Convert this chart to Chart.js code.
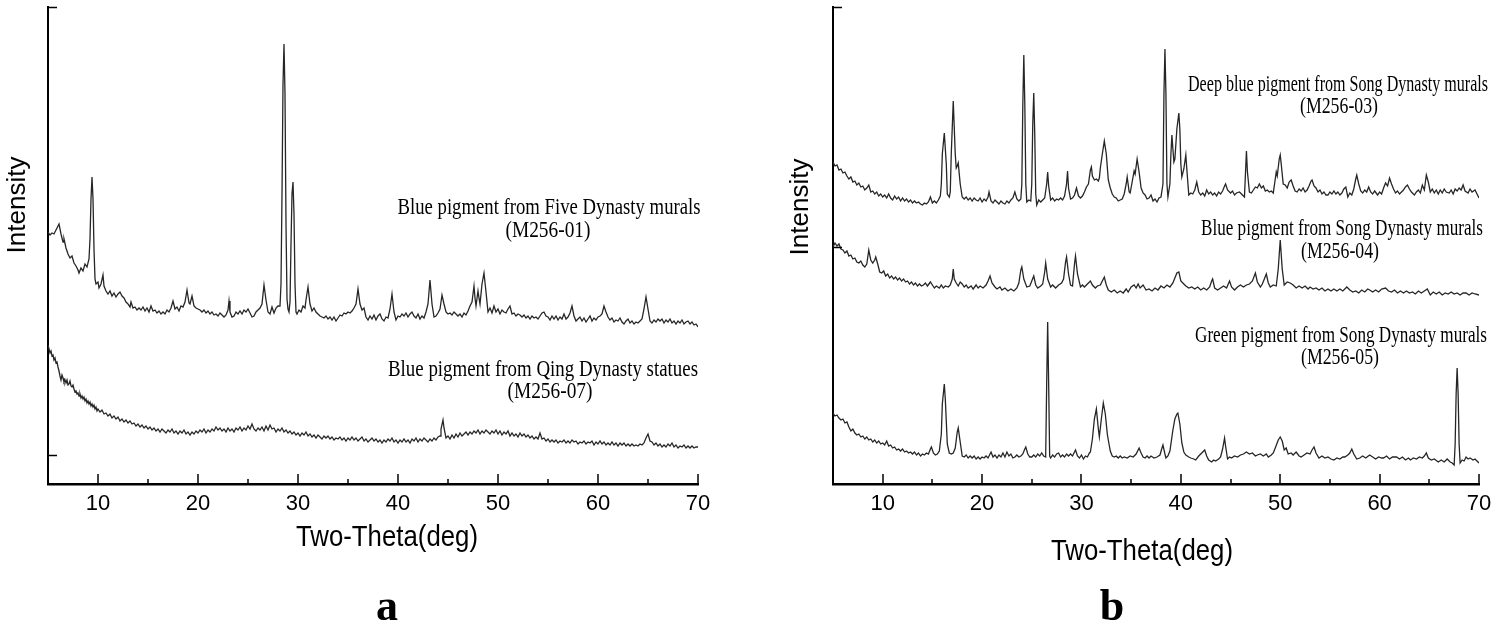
<!DOCTYPE html>
<html lang="en">
<head>
<meta charset="UTF-8">
<script src="https://cdn.jsdelivr.net/npm/chart.js"></script>
<title>XRD patterns</title>
<style>
  body { margin: 0; background: #fff; }
  #wrap { position: relative; width: 1500px; height: 636px; }
  canvas { position: absolute; left: 0; top: 0; }
</style>
</head>
<body>
<div id="wrap">
  <canvas id="panelA" width="1500" height="636"></canvas>
  <canvas id="panelB" width="1500" height="636"></canvas>
</div>
<script>
// two-theta (deg) / intensity (a.u., traces offset for display)
const m01 = [[5.0,252],[5.2,249],[5.4,251],[5.6,250],[5.8,254],[6.0,258],[6.1,260],[6.3,250],[6.5,242],[6.6,245],[6.8,236],[7.0,230],[7.2,226],[7.4,228],[7.6,221],[7.8,218],[8.0,214],[8.1,211],[8.3,216],[8.5,213],[8.7,220],[8.9,217],[9.1,225],[9.2,245],[9.3,285],[9.4,307],[9.5,285],[9.6,235],[9.7,205],[9.8,200],[10.0,202],[10.1,196],[10.3,200],[10.5,209],[10.6,198],[10.8,193],[11.0,190],[11.2,193],[11.4,188],[11.6,191],[11.8,187],[12.0,190],[12.2,192],[12.4,188],[12.6,186],[12.8,182],[13.0,180],[13.2,177],[13.3,182],[13.5,176],[13.7,177],[13.9,174],[14.1,176],[14.3,174],[14.5,177],[14.7,173],[14.9,176],[15.1,172],[15.3,178],[15.5,173],[15.7,174],[15.9,171],[16.1,173],[16.3,170],[16.5,172],[16.7,170],[16.9,174],[17.1,172],[17.3,176],[17.5,183],[17.7,175],[17.9,177],[18.1,173],[18.3,178],[18.5,177],[18.7,182],[18.9,194],[19.1,181],[19.2,180],[19.4,188],[19.6,178],[19.8,176],[20.0,175],[20.2,174],[20.4,172],[20.6,174],[20.8,171],[21.0,173],[21.2,170],[21.4,172],[21.6,169],[21.8,170],[22.0,168],[22.2,171],[22.4,169],[22.6,167],[22.8,169],[23.0,174],[23.1,183],[23.2,172],[23.4,167],[23.6,168],[23.8,172],[24.0,170],[24.2,173],[24.4,170],[24.6,174],[24.8,172],[25.0,175],[25.2,171],[25.4,167],[25.6,168],[25.8,172],[26.0,174],[26.2,176],[26.4,180],[26.6,199],[26.8,184],[27.0,172],[27.2,170],[27.4,177],[27.6,171],[27.8,176],[28.0,178],[28.2,178],[28.3,200],[28.4,290],[28.5,400],[28.6,440],[28.7,390],[28.8,260],[28.9,185],[29.0,175],[29.1,172],[29.2,182],[29.3,240],[29.4,290],[29.5,302],[29.6,270],[29.7,200],[29.8,172],[29.9,170],[30.1,174],[30.3,172],[30.5,178],[30.7,176],[30.8,184],[31.0,197],[31.2,180],[31.4,173],[31.6,176],[31.8,172],[32.0,170],[32.2,168],[32.4,167],[32.6,166],[32.8,168],[33.0,165],[33.2,167],[33.4,164],[33.6,167],[33.8,163],[34.0,166],[34.2,169],[34.4,168],[34.6,171],[34.8,170],[35.0,172],[35.2,171],[35.4,173],[35.6,176],[35.8,180],[36.0,195],[36.2,180],[36.4,174],[36.6,176],[36.8,167],[37.0,164],[37.2,168],[37.4,165],[37.6,169],[37.8,164],[38.0,168],[38.2,170],[38.4,165],[38.6,163],[38.8,167],[39.0,166],[39.2,175],[39.4,190],[39.6,172],[39.8,164],[40.0,168],[40.2,167],[40.4,170],[40.6,168],[40.8,171],[41.0,167],[41.2,170],[41.4,172],[41.6,168],[41.8,166],[42.0,170],[42.2,165],[42.4,168],[42.6,166],[42.8,172],[43.0,180],[43.2,204],[43.4,180],[43.6,167],[43.8,168],[44.0,171],[44.2,175],[44.4,189],[44.6,180],[44.8,172],[45.0,170],[45.2,171],[45.4,169],[45.6,172],[45.8,170],[46.0,168],[46.2,170],[46.4,167],[46.6,171],[46.8,169],[47.0,173],[47.2,178],[47.4,182],[47.6,198],[47.7,186],[47.8,178],[48.0,193],[48.1,186],[48.2,180],[48.4,200],[48.6,211],[48.8,192],[49.0,172],[49.2,176],[49.4,171],[49.6,178],[49.8,172],[50.0,175],[50.2,170],[50.4,174],[50.6,172],[50.8,171],[51.0,175],[51.2,178],[51.4,170],[51.6,171],[51.8,168],[52.0,170],[52.2,169],[52.4,167],[52.6,169],[52.8,166],[53.0,168],[53.2,165],[53.4,168],[53.6,166],[53.8,167],[54.0,165],[54.2,168],[54.4,171],[54.6,172],[54.8,168],[55.0,167],[55.2,164],[55.4,168],[55.6,165],[55.8,168],[56.0,164],[56.2,167],[56.4,165],[56.6,170],[56.8,165],[57.0,167],[57.2,171],[57.4,178],[57.6,168],[57.8,163],[58.0,165],[58.2,167],[58.4,163],[58.6,166],[58.8,162],[59.0,165],[59.2,168],[59.4,163],[59.6,166],[59.8,164],[60.0,167],[60.2,168],[60.4,170],[60.6,178],[60.8,172],[61.0,167],[61.2,164],[61.4,166],[61.6,162],[61.8,164],[62.0,163],[62.2,166],[62.4,162],[62.6,160],[62.8,163],[63.0,165],[63.2,161],[63.4,163],[63.6,160],[63.8,162],[64.0,161],[64.2,163],[64.4,165],[64.6,175],[64.8,187],[65.0,175],[65.2,163],[65.4,161],[65.6,164],[65.8,162],[66.0,165],[66.2,163],[66.4,165],[66.6,161],[66.8,164],[67.0,162],[67.2,165],[67.4,161],[67.6,163],[67.8,160],[68.0,163],[68.2,161],[68.4,164],[68.6,160],[68.8,162],[69.0,163],[69.2,160],[69.4,162],[69.6,159],[69.8,160],[70.0,157]];

const m07 = [[5.0,139],[5.1,135],[5.2,131],[5.3,133],[5.4,128],[5.5,129],[5.6,124],[5.7,126],[5.8,121],[5.9,122],[6.0,117],[6.1,113],[6.2,108],[6.3,104],[6.4,109],[6.5,106],[6.6,102],[6.7,104],[6.8,101],[6.9,104],[7.0,99],[7.1,100],[7.2,103],[7.3,98],[7.4,97],[7.5,99],[7.6,95],[7.7,92],[7.8,93],[7.9,90],[8.0,91],[8.1,88],[8.2,90],[8.3,86],[8.4,88],[8.5,85],[8.6,87],[8.7,83],[8.8,85],[8.9,81],[9.0,83],[9.1,80],[9.2,82],[9.3,78],[9.4,80],[9.5,77],[9.6,79],[9.7,75],[9.8,77],[9.9,73],[10.0,75],[10.2,72],[10.4,74],[10.6,70],[10.8,71],[11.0,68],[11.2,70],[11.4,66],[11.6,68],[11.8,65],[12.0,67],[12.2,63],[12.4,65],[12.6,62],[12.8,64],[13.0,61],[13.2,63],[13.4,60],[13.6,61],[13.8,58],[14.0,60],[14.2,57],[14.4,59],[14.6,56],[14.8,58],[15.0,55],[15.2,57],[15.4,54],[15.6,56],[15.8,53],[16.0,55],[16.2,52],[16.4,55],[16.6,53],[16.8,51],[17.0,54],[17.2,52],[17.4,55],[17.6,51],[17.8,53],[18.0,50],[18.2,53],[18.4,51],[18.6,54],[18.8,50],[19.0,52],[19.2,49],[19.4,52],[19.6,50],[19.8,53],[20.0,51],[20.2,54],[20.4,52],[20.6,55],[20.8,51],[21.0,54],[21.2,52],[21.4,55],[21.6,53],[21.8,57],[22.0,54],[22.2,56],[22.4,53],[22.6,55],[22.8,52],[23.0,56],[23.2,53],[23.4,55],[23.6,52],[23.8,56],[24.0,54],[24.2,57],[24.4,53],[24.6,56],[24.8,54],[25.0,58],[25.2,55],[25.4,60],[25.6,55],[25.8,53],[26.0,56],[26.2,54],[26.4,57],[26.6,53],[26.8,58],[27.0,54],[27.2,59],[27.4,55],[27.6,56],[27.8,52],[28.0,55],[28.2,53],[28.4,56],[28.6,52],[28.8,54],[29.0,51],[29.2,53],[29.4,50],[29.6,52],[29.8,49],[30.0,51],[30.2,48],[30.4,51],[30.6,49],[30.8,52],[31.0,48],[31.2,50],[31.4,47],[31.6,49],[31.8,46],[32.0,49],[32.2,47],[32.4,45],[32.6,48],[32.8,46],[33.0,48],[33.2,45],[33.4,47],[33.6,44],[33.8,46],[34.0,45],[34.2,47],[34.4,44],[34.6,46],[34.8,43],[35.0,46],[35.2,44],[35.4,47],[35.6,44],[35.8,46],[36.0,43],[36.2,45],[36.4,47],[36.6,43],[36.8,45],[37.0,42],[37.2,44],[37.4,46],[37.6,43],[37.8,45],[38.0,42],[38.2,44],[38.4,41],[38.6,44],[38.8,42],[39.0,45],[39.2,43],[39.4,46],[39.6,42],[39.8,44],[40.0,41],[40.2,44],[40.4,42],[40.6,45],[40.8,42],[41.0,44],[41.2,41],[41.4,45],[41.6,43],[41.8,46],[42.0,42],[42.2,45],[42.4,43],[42.6,46],[42.8,44],[43.0,42],[43.2,45],[43.4,43],[43.6,46],[43.8,44],[44.0,47],[44.2,48],[44.3,55],[44.5,64],[44.6,56],[44.8,46],[45.0,48],[45.2,45],[45.4,49],[45.6,46],[45.8,50],[46.0,47],[46.2,51],[46.4,48],[46.6,50],[46.8,52],[47.0,49],[47.2,52],[47.4,50],[47.6,53],[47.8,51],[48.0,54],[48.2,50],[48.4,53],[48.6,51],[48.8,54],[49.0,52],[49.2,50],[49.4,53],[49.6,51],[49.8,54],[50.0,50],[50.2,53],[50.4,49],[50.6,52],[50.8,50],[51.0,53],[51.2,48],[51.4,51],[51.6,48],[51.8,50],[52.0,47],[52.2,51],[52.4,48],[52.6,50],[52.8,47],[53.0,49],[53.2,46],[53.4,48],[53.6,45],[53.8,47],[54.0,45],[54.2,51],[54.4,45],[54.6,46],[54.8,43],[55.0,45],[55.2,42],[55.4,44],[55.6,42],[55.8,44],[56.0,41],[56.2,43],[56.4,42],[56.6,44],[56.8,41],[57.0,43],[57.2,41],[57.4,44],[57.6,42],[57.8,43],[58.0,40],[58.2,42],[58.4,41],[58.6,43],[58.8,40],[59.0,42],[59.2,41],[59.4,43],[59.6,39],[59.8,42],[60.0,40],[60.2,43],[60.4,40],[60.6,42],[60.8,39],[61.0,41],[61.2,39],[61.4,42],[61.6,39],[61.8,41],[62.0,38],[62.2,41],[62.4,39],[62.6,41],[62.8,38],[63.0,40],[63.2,38],[63.4,40],[63.6,38],[63.8,39],[64.0,38],[64.2,40],[64.4,39],[64.6,41],[64.8,46],[65.0,50],[65.2,43],[65.4,42],[65.6,39],[65.8,41],[66.0,38],[66.2,40],[66.4,37],[66.6,39],[66.8,37],[67.0,40],[67.2,38],[67.4,41],[67.6,37],[67.8,39],[68.0,36],[68.2,38],[68.4,37],[68.6,39],[68.8,36],[69.0,38],[69.2,36],[69.4,38],[69.6,36],[69.8,37],[70.0,37]];

const m03 = [[5.0,322],[5.2,318],[5.4,319],[5.6,314],[5.8,315],[6.0,311],[6.2,312],[6.4,308],[6.6,305],[6.8,307],[7.0,302],[7.2,303],[7.4,299],[7.6,301],[7.8,297],[8.0,298],[8.2,294],[8.4,296],[8.6,299],[8.8,292],[9.0,293],[9.2,290],[9.4,292],[9.6,288],[9.8,290],[10.0,287],[10.2,289],[10.4,286],[10.6,290],[10.8,286],[11.0,284],[11.2,288],[11.4,285],[11.6,287],[11.8,283],[12.0,286],[12.2,283],[12.4,285],[12.6,282],[12.8,284],[13.0,281],[13.2,283],[13.4,281],[13.6,282],[13.8,280],[14.0,279],[14.2,281],[14.4,280],[14.6,282],[14.8,287],[15.0,281],[15.2,283],[15.4,281],[15.6,284],[15.8,288],[15.9,300],[16.0,330],[16.2,351],[16.4,320],[16.5,290],[16.7,287],[16.8,292],[16.9,330],[17.1,383],[17.3,330],[17.4,316],[17.5,318],[17.6,321],[17.8,300],[18.0,287],[18.2,285],[18.4,287],[18.6,284],[18.8,286],[19.0,283],[19.2,286],[19.4,284],[19.6,283],[19.8,286],[20.0,282],[20.2,285],[20.4,283],[20.6,287],[20.7,292],[20.9,283],[21.1,281],[21.3,284],[21.5,282],[21.7,280],[21.9,283],[22.1,281],[22.3,280],[22.5,283],[22.7,281],[22.9,284],[23.1,286],[23.3,292],[23.5,285],[23.7,283],[23.9,285],[24.0,300],[24.1,380],[24.2,429],[24.3,380],[24.4,300],[24.5,282],[24.7,284],[24.9,283],[25.0,300],[25.1,360],[25.2,391],[25.3,350],[25.4,290],[25.5,279],[25.7,284],[25.9,282],[26.1,284],[26.3,286],[26.5,300],[26.6,312],[26.7,298],[26.9,284],[27.1,286],[27.3,283],[27.5,285],[27.7,284],[27.9,286],[28.1,284],[28.3,288],[28.5,300],[28.6,313],[28.7,296],[28.9,285],[29.1,286],[29.3,289],[29.5,296],[29.7,288],[29.9,286],[30.1,288],[30.3,292],[30.5,297],[30.7,300],[30.9,314],[31.0,317],[31.1,308],[31.3,304],[31.5,305],[31.7,303],[31.8,306],[31.9,316],[32.1,330],[32.3,343],[32.5,330],[32.7,304],[32.9,296],[33.1,290],[33.3,287],[33.5,286],[33.7,283],[33.9,284],[34.1,285],[34.3,290],[34.5,300],[34.6,307],[34.8,292],[34.9,291],[35.1,302],[35.3,313],[35.4,310],[35.6,325],[35.8,312],[36.0,296],[36.2,291],[36.4,289],[36.6,285],[36.8,286],[37.0,289],[37.2,283],[37.4,285],[37.6,282],[37.8,286],[38.0,287],[38.2,300],[38.3,390],[38.4,435],[38.5,390],[38.6,300],[38.7,287],[38.9,300],[39.0,330],[39.1,349],[39.2,335],[39.3,322],[39.4,325],[39.6,355],[39.8,371],[39.9,355],[40.0,320],[40.1,307],[40.3,315],[40.5,329],[40.6,315],[40.8,289],[41.0,291],[41.2,290],[41.4,294],[41.6,302],[41.8,292],[42.0,289],[42.2,291],[42.4,288],[42.6,294],[42.8,290],[43.0,292],[43.2,289],[43.4,291],[43.6,288],[43.8,292],[44.0,290],[44.2,293],[44.4,298],[44.5,300],[44.7,294],[45.0,291],[45.2,293],[45.4,289],[45.6,291],[45.9,292],[46.2,289],[46.4,287],[46.5,310],[46.6,333],[46.7,312],[46.9,292],[47.1,291],[47.3,294],[47.5,297],[47.7,296],[47.9,300],[48.1,296],[48.3,298],[48.5,293],[48.7,294],[48.9,292],[49.1,293],[49.3,291],[49.5,305],[49.6,312],[49.7,308],[49.9,325],[50.0,329],[50.1,320],[50.3,300],[50.5,299],[50.7,296],[50.9,302],[51.1,304],[51.3,298],[51.5,293],[51.7,292],[51.9,295],[52.1,293],[52.3,296],[52.5,292],[52.7,294],[52.9,298],[53.1,303],[53.2,304],[53.4,298],[53.6,296],[53.8,292],[54.0,294],[54.2,290],[54.4,292],[54.6,289],[54.8,289],[55.0,292],[55.2,290],[55.4,293],[55.6,290],[55.8,292],[56.0,289],[56.2,291],[56.4,295],[56.6,297],[56.8,287],[57.0,291],[57.2,289],[57.4,295],[57.6,305],[57.7,309],[57.9,300],[58.1,293],[58.3,291],[58.5,294],[58.7,292],[58.9,297],[59.1,292],[59.3,290],[59.5,293],[59.8,289],[60.0,292],[60.2,290],[60.4,296],[60.6,301],[60.8,298],[61.0,306],[61.2,300],[61.4,295],[61.6,291],[61.8,293],[62.0,290],[62.2,292],[62.4,294],[62.6,297],[62.8,299],[63.0,295],[63.2,292],[63.5,289],[63.7,292],[63.9,294],[64.1,291],[64.3,299],[64.5,294],[64.7,309],[64.9,302],[65.1,292],[65.3,295],[65.5,291],[65.7,294],[65.9,290],[66.1,294],[66.3,291],[66.5,295],[66.7,292],[67.0,291],[67.2,294],[67.4,290],[67.6,295],[67.8,293],[68.0,296],[68.2,294],[68.4,299],[68.6,293],[68.9,291],[69.1,295],[69.3,292],[69.6,294],[69.8,290],[70.0,286]];

const m04 = [[5.0,237],[5.2,241],[5.4,238],[5.6,240],[5.8,235],[6.0,234],[6.2,231],[6.4,233],[6.6,228],[6.8,229],[7.0,225],[7.2,226],[7.4,222],[7.6,221],[7.8,223],[8.0,219],[8.2,217],[8.4,220],[8.6,234],[8.8,224],[9.0,221],[9.2,224],[9.3,227],[9.5,220],[9.7,212],[9.9,211],[10.1,213],[10.3,208],[10.5,210],[10.7,206],[10.9,208],[11.1,205],[11.3,207],[11.5,204],[11.7,206],[11.9,203],[12.1,205],[12.3,202],[12.5,203],[12.7,200],[12.9,202],[13.1,199],[13.3,201],[13.5,198],[13.7,200],[13.9,198],[14.1,199],[14.3,201],[14.5,198],[14.8,202],[15.0,199],[15.2,196],[15.4,198],[15.7,196],[15.9,199],[16.1,196],[16.3,198],[16.6,197],[16.8,199],[17.0,205],[17.1,215],[17.2,205],[17.4,201],[17.6,198],[17.8,202],[18.0,200],[18.2,197],[18.4,199],[18.6,196],[18.9,198],[19.1,195],[19.4,199],[19.6,196],[19.8,198],[20.1,196],[20.4,199],[20.6,203],[20.8,208],[21.0,201],[21.3,197],[21.5,195],[21.8,197],[22.0,194],[22.3,196],[22.6,193],[22.9,195],[23.2,193],[23.5,196],[23.7,201],[23.9,214],[24.0,217],[24.2,205],[24.5,197],[24.8,198],[25.0,203],[25.2,208],[25.4,199],[25.6,196],[25.9,198],[26.1,200],[26.3,212],[26.4,221],[26.6,205],[26.9,197],[27.1,199],[27.4,196],[27.7,199],[28.0,201],[28.2,205],[28.4,222],[28.5,227],[28.7,210],[28.9,199],[29.1,198],[29.3,220],[29.4,228],[29.6,210],[29.9,197],[30.1,199],[30.3,197],[30.6,200],[30.9,203],[31.1,199],[31.4,196],[31.6,198],[31.9,199],[32.1,203],[32.3,207],[32.5,199],[32.7,194],[33.0,192],[33.3,194],[33.6,191],[33.9,193],[34.2,191],[34.5,195],[34.7,192],[35.0,197],[35.3,199],[35.5,196],[35.7,200],[35.9,196],[36.2,199],[36.5,194],[36.8,195],[37.1,193],[37.4,196],[37.7,194],[38.0,198],[38.3,196],[38.6,199],[38.9,197],[39.2,201],[39.4,206],[39.6,211],[39.8,212],[40.0,203],[40.2,201],[40.5,198],[40.8,196],[41.1,197],[41.4,195],[41.7,197],[42.0,194],[42.3,196],[42.6,194],[42.9,197],[43.1,203],[43.2,205],[43.4,196],[43.7,194],[44.0,196],[44.3,198],[44.6,196],[44.9,203],[45.1,197],[45.4,194],[45.7,197],[46.0,199],[46.3,197],[46.6,199],[46.9,200],[47.2,203],[47.5,211],[47.7,202],[48.0,197],[48.2,200],[48.4,205],[48.6,210],[48.8,201],[49.0,197],[49.3,199],[49.6,198],[49.8,215],[50.0,244],[50.2,215],[50.4,199],[50.7,202],[51.0,201],[51.3,199],[51.6,196],[51.9,198],[52.2,196],[52.5,198],[52.8,195],[53.0,197],[53.3,195],[53.6,196],[53.9,194],[54.2,196],[54.5,193],[54.8,195],[55.1,193],[55.4,195],[55.7,193],[56.0,195],[56.3,193],[56.7,197],[57.0,194],[57.3,192],[57.6,193],[57.9,191],[58.2,194],[58.5,192],[58.8,195],[59.0,194],[59.3,192],[59.6,194],[59.9,192],[60.2,195],[60.6,196],[60.9,193],[61.2,192],[61.5,194],[61.8,191],[62.1,193],[62.4,191],[62.7,193],[63.0,191],[63.3,192],[63.6,190],[63.9,193],[64.2,191],[64.5,193],[64.8,195],[65.1,189],[65.4,192],[65.7,190],[66.0,192],[66.3,189],[66.6,191],[66.9,190],[67.2,192],[67.5,190],[67.8,191],[68.1,189],[68.4,191],[68.7,191],[69.0,189],[69.3,191],[69.6,190],[70.0,189]];

const m05 = [[5.0,71],[5.2,68],[5.4,69],[5.6,66],[5.8,64],[6.0,65],[6.2,61],[6.4,62],[6.6,57],[6.8,53],[7.0,55],[7.2,51],[7.4,49],[7.6,50],[7.8,47],[8.0,48],[8.2,45],[8.4,47],[8.6,44],[8.8,45],[9.0,42],[9.2,44],[9.4,41],[9.6,43],[9.8,40],[10.0,41],[10.2,39],[10.4,43],[10.6,38],[10.8,39],[11.0,36],[11.2,37],[11.4,34],[11.6,35],[11.8,33],[12.0,35],[12.2,32],[12.4,33],[12.6,31],[12.8,32],[13.0,30],[13.2,32],[13.4,29],[13.6,31],[13.8,28],[14.0,30],[14.2,29],[14.4,31],[14.6,30],[14.8,35],[14.9,37],[15.1,31],[15.3,29],[15.5,30],[15.7,33],[15.9,50],[16.0,80],[16.2,100],[16.3,85],[16.5,40],[16.7,31],[16.9,30],[17.1,31],[17.3,36],[17.5,52],[17.6,56],[17.8,42],[18.0,28],[18.2,27],[18.4,29],[18.6,26],[18.8,28],[19.0,26],[19.2,28],[19.4,25],[19.6,27],[19.8,25],[20.0,27],[20.2,26],[20.4,28],[20.6,26],[20.8,30],[20.9,32],[21.1,27],[21.3,29],[21.5,26],[21.7,29],[21.9,27],[22.1,31],[22.3,27],[22.5,32],[22.7,28],[22.9,30],[23.1,26],[23.3,27],[23.5,29],[23.7,27],[23.9,28],[24.1,30],[24.3,35],[24.4,37],[24.6,30],[24.8,27],[25.0,27],[25.2,29],[25.4,27],[25.6,30],[25.8,28],[26.0,31],[26.2,28],[26.4,27],[26.5,100],[26.6,162],[26.7,100],[26.8,28],[26.9,26],[27.1,29],[27.3,27],[27.5,30],[27.7,31],[27.9,27],[28.1,29],[28.3,27],[28.5,30],[28.7,28],[28.9,30],[29.1,28],[29.4,34],[29.6,28],[29.8,26],[30.0,29],[30.2,25],[30.4,28],[30.6,27],[30.8,31],[30.9,32],[31.1,45],[31.3,65],[31.5,75],[31.7,55],[31.8,47],[32.0,65],[32.2,81],[32.4,70],[32.6,50],[32.7,44],[32.9,33],[33.1,28],[33.3,27],[33.5,28],[33.7,26],[33.9,28],[34.1,26],[34.3,27],[34.6,26],[34.9,28],[35.2,27],[35.5,30],[35.8,36],[36.0,31],[36.2,27],[36.4,26],[36.6,28],[36.8,26],[37.0,28],[37.3,26],[37.6,27],[37.9,29],[38.1,36],[38.2,39],[38.4,30],[38.5,26],[38.7,28],[38.9,33],[39.1,47],[39.2,54],[39.4,65],[39.6,70],[39.7,71],[39.9,60],[40.1,41],[40.3,32],[40.5,29],[40.8,27],[41.0,26],[41.3,25],[41.5,24],[41.8,28],[42.1,31],[42.4,34],[42.6,28],[42.8,24],[43.1,22],[43.3,24],[43.5,23],[43.8,25],[44.0,27],[44.2,35],[44.4,46],[44.5,38],[44.7,25],[44.9,27],[45.1,26],[45.4,28],[45.7,27],[46.0,29],[46.3,30],[46.6,32],[46.9,30],[47.2,31],[47.5,28],[47.7,29],[48.0,30],[48.3,28],[48.6,30],[48.8,27],[49.1,29],[49.3,31],[49.5,36],[49.8,44],[50.0,47],[50.2,43],[50.4,34],[50.6,36],[50.8,30],[51.1,31],[51.3,29],[51.6,32],[51.9,28],[52.1,27],[52.4,29],[52.7,31],[53.0,30],[53.2,34],[53.4,37],[53.6,31],[53.9,26],[54.2,28],[54.5,26],[54.8,27],[55.1,25],[55.4,24],[55.7,26],[56.0,25],[56.3,27],[56.5,27],[56.8,29],[57.0,31],[57.2,35],[57.4,30],[57.7,25],[58.0,26],[58.3,28],[58.6,26],[59.0,29],[59.3,27],[59.6,25],[59.9,27],[60.2,26],[60.4,26],[60.7,28],[61.0,25],[61.3,27],[61.7,27],[62.0,25],[62.3,27],[62.6,24],[62.9,26],[63.1,24],[63.4,26],[63.7,25],[64.0,27],[64.3,26],[64.5,28],[64.7,31],[64.9,26],[65.2,24],[65.5,25],[65.9,22],[66.2,24],[66.5,22],[66.8,25],[67.1,22],[67.3,21],[67.5,19],[67.6,40],[67.7,90],[67.8,116],[67.9,90],[68.0,40],[68.1,21],[68.3,24],[68.5,23],[68.7,27],[68.9,25],[69.1,26],[69.4,24],[69.6,25],[69.8,23],[70.0,21]];

// axis ranges and the two marked intensity levels on each y axis
const thetaMin = 5, thetaMax = 70, thetaStep = 5;
const intMax = 477;
const yTicksA = [29, 477];
const yTicksB = [237, 477];

const labelsA = [
  ['Blue pigment from Five Dynasty murals', '(M256-01)'],
  ['Blue pigment from Qing Dynasty statues', '(M256-07)']
];
const labelsB = [
  ['Deep blue pigment from Song Dynasty murals', '(M256-03)'],
  ['Blue pigment from Song Dynasty murals', '(M256-04)'],
  ['Green pigment from Song Dynasty murals', '(M256-05)']
];

const SERIF = "'Liberation Serif', 'Times New Roman', serif";
const SANS = "'Liberation Sans', Arial, sans-serif";

// inward tick marks + free text (squeezed to the widths seen in the figure)
const decor = {
  id: 'decor',
  afterDraw(chart, args, opts) {
    const ctx = chart.ctx;
    const xs = chart.scales.x, ys = chart.scales.y;
    ctx.save();
    ctx.strokeStyle = '#000';
    ctx.lineWidth = 1.5;
    xs.ticks.forEach(t => {
      if (t.value <= xs.min) return;
      const px = Math.round(xs.getPixelForValue(t.value));
      const len = t.value % 10 === 0 ? 10 : 5;
      ctx.beginPath();
      ctx.moveTo(px, xs.top);
      ctx.lineTo(px, xs.top - len);
      ctx.stroke();
    });
    ys.ticks.forEach(t => {
      const py = Math.round(ys.getPixelForValue(t.value)) + 0.5;
      ctx.beginPath();
      ctx.moveTo(ys.right, py);
      ctx.lineTo(ys.right + 9, py);
      ctx.stroke();
    });
    ctx.restore();

    (opts.items || []).forEach(it => {
      ctx.save();
      ctx.font = it.font;
      ctx.fillStyle = '#000';
      ctx.textAlign = 'center';
      ctx.textBaseline = it.base || 'middle';
      const w = ctx.measureText(it.text).width;
      const sx = it.w ? it.w / w : 1;
      ctx.translate(it.x, it.y);
      if (it.rot) ctx.rotate(it.rot);
      ctx.scale(sx, 1);
      ctx.fillText(it.text, 0, 0);
      ctx.restore();
    });
  }
};

function makePanel(id, series, yTicks, pad, items) {
  new Chart(document.getElementById(id), {
    type: 'line',
    data: {
      datasets: series.map(s => ({
        data: s,
        borderColor: '#262626',
        borderWidth: 1.3,
        pointRadius: 0,
        tension: 0,
        fill: false
      }))
    },
    options: {
      responsive: false,
      animation: false,
      events: [],
      layout: { padding: pad },
      plugins: {
        legend: { display: false },
        tooltip: { enabled: false },
        decor: { items: items }
      },
      scales: {
        x: {
          type: 'linear',
          min: thetaMin,
          max: thetaMax,
          grid: { display: false, drawTicks: false },
          border: { display: true, color: '#000', width: 2.5 },
          ticks: {
            stepSize: thetaStep,
            autoSkip: false,
            maxRotation: 0,
            padding: 7,
            color: '#000',
            font: { family: SANS, size: 22 },
            callback: v => (v % 10 === 0 ? String(v) : '')
          },
          afterFit: s => { s.height = 152; }
        },
        y: {
          min: 0,
          max: intMax,
          grid: { display: false, drawTicks: false },
          border: { display: true, color: '#000', width: 2 },
          ticks: { display: false },
          afterBuildTicks: s => { s.ticks = yTicks.map(v => ({ value: v })); },
          afterFit: s => { s.width = 48; }
        }
      }
    },
    plugins: [decor]
  });
}

const itemsA = [
  { text: 'Intensity', x: 18, y: 205, rot: -Math.PI / 2, font: '26px ' + SANS, w: 97 },
  { text: 'Two-Theta(deg)', x: 387, y: 538, font: '29px ' + SANS, w: 182 },
  { text: labelsA[0][0], x: 549, y: 208, font: '23px ' + SERIF, w: 303 },
  { text: labelsA[0][1], x: 548, y: 231, font: '23px ' + SERIF, w: 85 },
  { text: labelsA[1][0], x: 543, y: 370, font: '23px ' + SERIF, w: 310 },
  { text: labelsA[1][1], x: 550, y: 392, font: '23px ' + SERIF, w: 85 },
  { text: 'a', x: 387, y: 620, base: 'alphabetic', font: 'bold 44px ' + SERIF }
];
const itemsB = [
  { text: 'Intensity', x: 801, y: 207, rot: -Math.PI / 2, font: '26px ' + SANS, w: 97 },
  { text: 'Two-Theta(deg)', x: 1142, y: 552, font: '29px ' + SANS, w: 182 },
  { text: labelsB[0][0], x: 1338, y: 85, font: '23px ' + SERIF, w: 300 },
  { text: labelsB[0][1], x: 1339, y: 107, font: '23px ' + SERIF, w: 78 },
  { text: labelsB[1][0], x: 1342, y: 229, font: '23px ' + SERIF, w: 282 },
  { text: labelsB[1][1], x: 1340, y: 252, font: '23px ' + SERIF, w: 78 },
  { text: labelsB[2][0], x: 1341, y: 336, font: '23px ' + SERIF, w: 292 },
  { text: labelsB[2][1], x: 1340, y: 358, font: '23px ' + SERIF, w: 78 },
  { text: 'b', x: 1112, y: 620, base: 'alphabetic', font: 'bold 44px ' + SERIF }
];

makePanel('panelA', [m01, m07], yTicksA, { left: 0, top: 7, right: 802, bottom: 0 }, itemsA);
makePanel('panelB', [m03, m04, m05], yTicksB, { left: 785, top: 7, right: 21, bottom: 0 }, itemsB);
</script>
</body>
</html>
